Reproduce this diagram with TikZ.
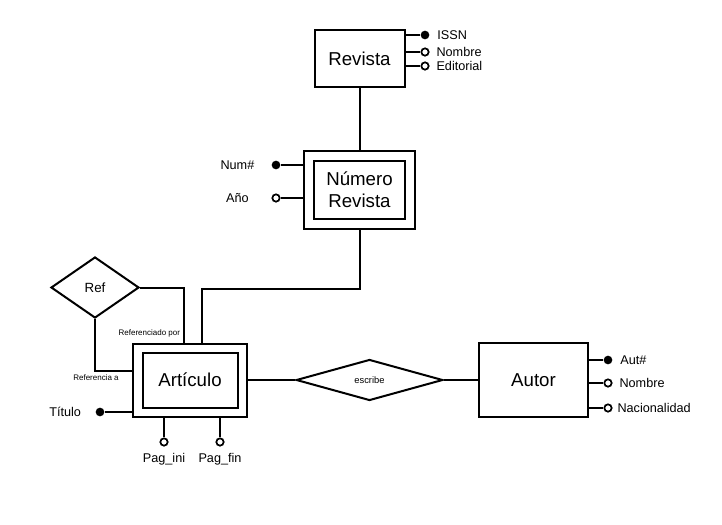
\documentclass[tikz,border=0pt]{standalone}
\usepackage{fontspec}
\setmainfont{Liberation Sans}
\usetikzlibrary{positioning,shapes.geometric}

\begin{document}
\begin{tikzpicture}[x=0.75pt, y=-0.75pt, line width=1.5pt, node distance=4.5pt]
	
	\useasboundingbox (0,0) rectangle (722,525);
	
	\begin{scope}[every node/.style={inner sep=0pt}]
		\tikzstyle{entity}=[draw,rectangle,line width=1.5pt,font=\fontsize{14}{16.5}\selectfont,align=center]
		\tikzstyle{relation}=[draw,diamond,line width=1.5pt]
		\tikzstyle{keydot}=[circle,fill,minimum size=6.5pt]
		\tikzstyle{attrdot}=[circle,draw,fill=white,line width=1.3pt,minimum size=5.5pt]
		\tikzstyle{attrtext}=[font=\fontsize{9.5}{11}\selectfont]
		\tikzstyle{roletext}=[font=\fontsize{6}{7}\selectfont]
		
		\node [entity,minimum width=67.5pt,minimum height=42.75pt] (rev) at (359.5,58.5) {Revista};
		\node [entity,minimum width=83.25pt,minimum height=58.5pt] (num) at (359.5,190) {};
		\node [entity,minimum width=68.25pt,minimum height=43.5pt] (numin) at (num) {Número\\Revista};
		\node [entity,minimum width=85.5pt,minimum height=54.75pt] (art) at (190,380) {};
		\node [entity,minimum width=71.25pt,minimum height=41.25pt] (artin) at (art) {Artículo};
		\node [entity,minimum width=81.75pt,minimum height=55.5pt] (aut) at (533.5,380) {Autor};
		
		\node [relation,aspect=3.6,minimum width=110pt,minimum height=30.75pt,font=\fontsize{7}{8}\selectfont] (esc) at (369.5,380) {escribe};
		\node [relation,aspect=1.44,minimum width=66pt,minimum height=45.75pt,font=\fontsize{10}{12}\selectfont] (ref) at (95,287.5) {Ref};
		
		\node [keydot] (issn) at (425,35) {};
		\node [attrdot] (rnom) at (425,52) {};
		\node [attrdot] (redi) at (425,66) {};
		\node [attrtext,right=of issn] (issnt) {ISSN};
		\node [attrtext,right=of rnom] (rnomt) {Nombre};
		\node [attrtext,right=of redi] (redit) {Editorial};
		
		\node [keydot] (nnum) at (276,165) {};
		\node [attrdot] (nano) at (276,198) {};
		\node [attrtext,left=11.5pt of nnum] (nnumt) {Num\#};
		\node [attrtext] (nanot) at (nnumt |- nano) {Año};
		
		\node [keydot] (tit) at (100,412) {};
		\node [attrtext,left=9.5pt of tit] (titt) {Título};
		\node [attrdot] (pini) at (164,442) {};
		\node [attrdot] (pfin) at (220,442) {};
		\node [attrtext,below=4pt of pini] (pinit) {Pag\_ini};
		\node [attrtext,below=4pt of pfin] (pfint) {Pag\_fin};
		
		\node [keydot] (anum) at (608,360) {};
		\node [attrdot] (anom) at (608,383) {};
		\node [attrdot] (anac) at (608,408) {};
		\node [attrtext,right=of anum] (anumt) {Aut\#};
		\node [attrtext,right=of anom] (anomt) {Nombre};
		\node [attrtext,right=3pt of anac] (anact) {Nacionalidad};
		
		\node [roletext,anchor=east] (refbyt) at (181,333) {Referenciado por};
		\node [roletext] (reftot) at (96,378) {Referencia a};
	\end{scope}
	
	\draw (rev) -- (num);
	\draw (num.south) -- ++(0,59) -| ([xshift=9pt]art.north);
	\draw (ref.east) -| ([xshift=-4.5pt]art.north);
	\draw (ref.south) |- ([yshift=6.4pt]art.west);
	\draw (art) -- (esc) -- (aut);
	
	\draw (rev.east |- issn) -- (issn);
	\draw (rev.east |- rnom) -- (rnom);
	\draw (rev.east |- redi) -- (redi);
	\draw (num.west |- nnum) -- (nnum);
	\draw (num.west |- nano) -- (nano);
	\draw (art.west |- tit) -- (tit);
	\draw (art.south -| pini) -- (pini);
	\draw (art.south -| pfin) -- (pfin);
	\draw (aut.east |- anum) -- (anum);
	\draw (aut.east |- anom) -- (anom);
	\draw (aut.east |- anac) -- (anac);
	
\end{tikzpicture}
\end{document}
